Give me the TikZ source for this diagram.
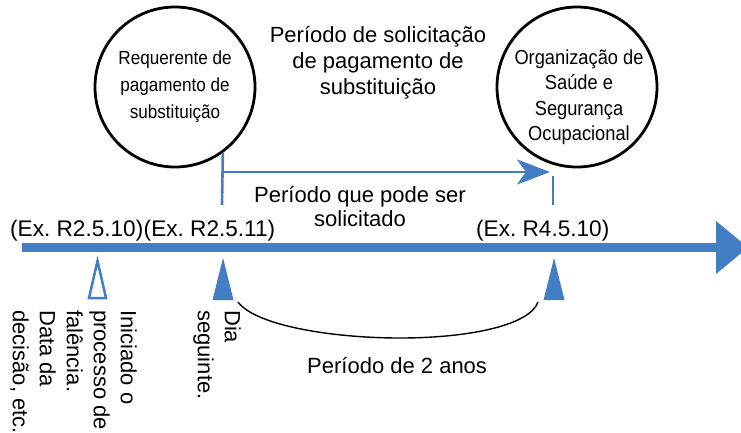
\documentclass[tikz,border=0pt]{standalone}
\usepackage{fontspec}
\setmainfont{Liberation Sans}
\newfontfamily\narrowsf[FakeStretch=0.9]{Liberation Sans}
\usetikzlibrary{arrows.meta,calc}
\definecolor{tlblue}{RGB}{66,126,196}
\frenchspacing

\begin{document}
\begin{tikzpicture}[
		x=1pt, y=-1pt,
		every node/.style={font=\fontsize{22}{26}\selectfont, inner sep=0pt},
		% styles
		party/.style={circle, draw=black, line width=2.8pt, minimum size=160pt},
		partytext/.style={align=center, narrowfont},
		narrowfont/.style={font=\narrowsf\fontsize{19}{27}\selectfont},
		axisline/.style={draw=tlblue, line width=9pt},
		bluethin/.style={draw=tlblue, line width=2.6pt},
		period/.style={bluethin, -{Stealth[length=33pt, width=25pt, inset=9pt, fill=tlblue]}},
		marker/.style={fill=tlblue, draw=none},
		openmarker/.style={draw=tlblue, line width=2.5pt, fill=white},
		reflabel/.style={anchor=base west, font=\fontsize{22.6}{26}\selectfont},
		vertlabel/.style={rotate=-90, anchor=north west, align=left, font=\fontsize{22}{27}\selectfont},
		span/.style={draw=black, line width=1.4pt}
	]

	% --- parameters ---
	\def\xA{97.5}   % start bankruptcy
	\def\xB{222}    % next day
	\def\xC{553}    % end of 2 years
	\def\axisY{247.5}

	\useasboundingbox (0,0) rectangle (741,432);

	% --- circles ---
	\node[party, partytext] (req) at (175,87) {Requerente de\\pagamento de\\substituição};
	\node[party] (osh) at (577,87) {};
	\node[partytext, narrowfont, font=\narrowsf\fontsize{20.3}{25.5}\selectfont] (oshtext) at ($(osh.center)+(2,10)$) {Organização de\\Saúde e\\Segurança\\Ocupacional};

	% --- title ---
	\node[align=center] (title) at (378,63) {Período de solicitação\\de pagamento de\\substituição};

	% --- claim period ---
	\coordinate (tickB) at (\xB,205);
	\coordinate (perS) at (\xB,172);
	\coordinate (perE) at (550,172);
	\coordinate (tickCtop) at (\xC,176);
	\coordinate (tickC) at (\xC,205);
	\draw[bluethin] (req.-54) -- (tickB);
	\draw[period] (perS) -- (perE);
	\draw[bluethin] (tickCtop) -- (tickC);
	\node[align=center, font=\fontsize{22}{24}\selectfont] (claim) at (360,207) {Período que pode ser\\solicitado};

	% --- time axis ---
	\coordinate (axisS) at (22,\axisY);
	\coordinate (axisE) at (717,\axisY);
	\draw[axisline] (axisS) -- (axisE);
	\fill[tlblue] (716,221) -- (748,\axisY) -- (716,274) -- cycle;

	\node[reflabel] (exA) at (10,236) {(Ex. R2.5.10)};
	\node[reflabel] (exB) at (exA.base east) {(Ex. R2.5.11)};
	\node[reflabel] (exC) at (476,236) {(Ex. R4.5.10)};

	% --- markers ---
	\draw[openmarker] (\xA,261) -- ++(8.5,37) -- ++(-17,0) -- cycle;
	\fill[marker] (\xB+1,258) -- ++(10.5,42) -- ++(-21,0) -- cycle;
	\fill[marker] (\xC+1,258) -- ++(10.5,42) -- ++(-21,0) -- cycle;

	\node[vertlabel] (start) at (137,310) {Iniciado o\\processo de\\falência.\\Data da\\decisão, etc.};
	\node[vertlabel] (next) at (241,310) {Dia\\seguinte.};

	% --- two year span ---
	\coordinate (spanS) at (238,302);
	\coordinate (spanE) at (538,302);
	\draw[span] (spanS) .. controls (255,325) and (330,338) .. (400,338)
		.. controls (470,338) and (530,325) .. (spanE);
	\node[anchor=base west] (twoyears) at (307,373) {Período de 2 anos};

\end{tikzpicture}
\end{document}
